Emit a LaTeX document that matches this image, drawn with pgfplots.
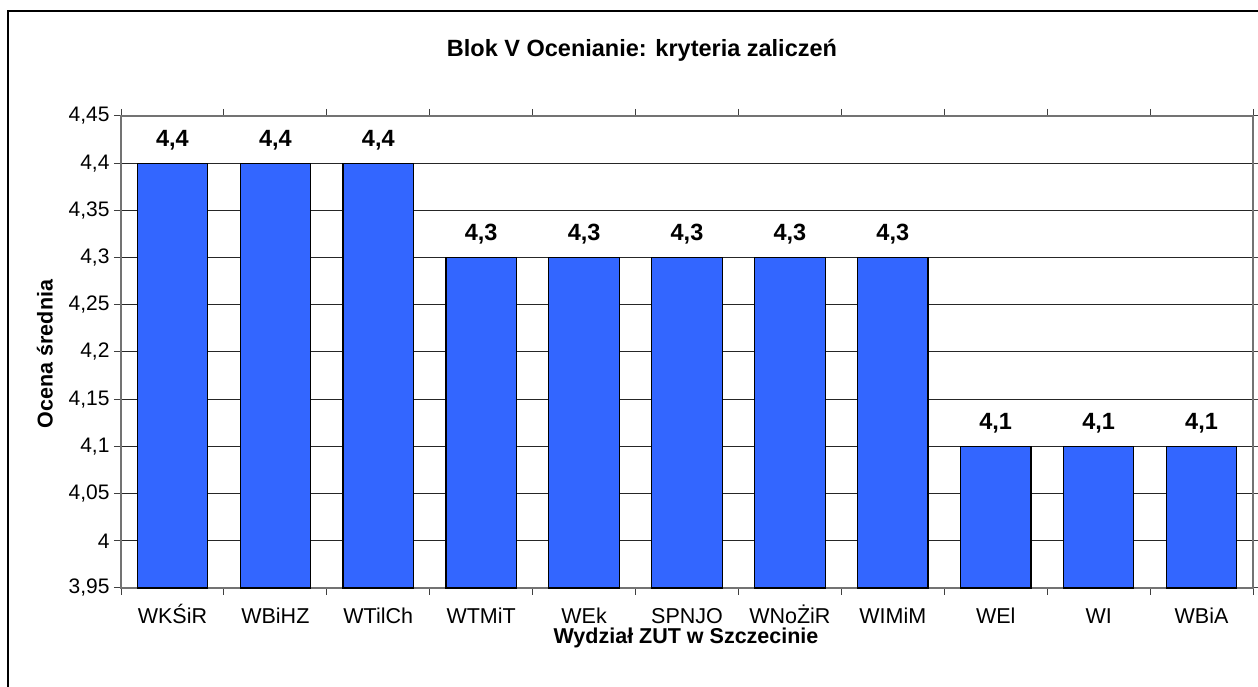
\documentclass[border=0pt]{standalone}
\usepackage{fontspec}
\setmainfont{Liberation Sans}
\usepackage{pgfplots}
\pgfplotsset{compat=1.18}
\definecolor{barblue}{RGB}{51,102,255}
\begin{document}
\begin{tikzpicture}[x=1pt,y=1pt]
\useasboundingbox (0,0) rectangle (1258,687);
\draw[line width=1.6pt,black] (8,-5) -- (8,676) -- (1265,676);
\node[font=\fontsize{23.5}{27}\selectfont\bfseries, anchor=base] at (642,630) {Blok V Ocenianie: kryteria zaliczeń};
\node[font=\fontsize{21.5}{25}\selectfont\bfseries, anchor=base] at (686,43) {Wydział ZUT w Szczecinie};
\node[font=\fontsize{21.5}{25}\selectfont\bfseries, anchor=base, rotate=90] at (52.5,333) {Ocena średnia};
\begin{axis}[
  at={(121pt,99pt)}, anchor=south west,
  scale only axis, width=1132pt, height=472pt,
  ymin=3.95, ymax=4.45, ytick={3.95,4,...,4.46},
  xmin=-0.5, xmax=10.5,
  xtick={0,...,10},
  xticklabels={WKŚiR,WBiHZ,WTilCh,WTMiT,WEk,SPNJO,WNoŻiR,WIMiM,WEl,WI,WBiA},
  minor xtick={-0.5,0.5,...,10.6},
  major x tick style={draw=none},
  tick align=outside, major tick length=7pt, minor tick length=7pt,
  tick style={black!75, line width=1pt},
  ymajorgrids, grid style={black!85, line width=1pt},
  axis line style={black!55, line width=1.3pt},
  /pgf/number format/assume math mode=true,
  yticklabel style={font=\fontsize{21}{25}\selectfont, xshift=-1pt, /pgf/number format/.cd, use comma, fixed, precision=2},
  xticklabel style={font=\fontsize{21.5}{25}\selectfont, text height=16pt, text depth=4pt, yshift=-9pt},
  ybar, bar width=70.4pt,
  nodes near coords,
  every node near coord/.append style={font=\fontsize{23.5}{28}\selectfont\bfseries, anchor=base, inner sep=0pt, yshift=17pt,
    /pgf/number format/.cd, use comma, fixed, precision=1, assume math mode=true},
  clip=false,
]
\addplot[fill=barblue, draw=black, line width=1.2pt] coordinates {
(0,4.4) (1,4.4) (2,4.4) (3,4.3) (4,4.3) (5,4.3) (6,4.3) (7,4.3) (8,4.1) (9,4.1) (10,4.1)};
\end{axis}
\end{tikzpicture}
\end{document}
